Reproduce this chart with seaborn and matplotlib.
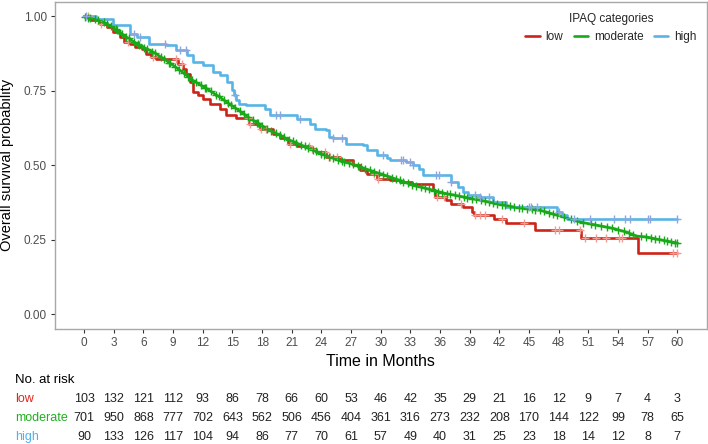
import numpy as np
import pandas as pd
import matplotlib
matplotlib.use("Agg")
import matplotlib.pyplot as plt
from matplotlib.lines import Line2D
from matplotlib.transforms import blended_transform_factory
import seaborn as sns

# ---------------- data ----------------
groups = ["low", "moderate", "high"]

low_t = [0, 0.6, 1.6, 2.3, 2.9, 3.6, 4.0, 4.6, 5.1, 5.8, 6.3, 6.8, 7.3, 9.5, 10.0,
         10.3, 10.7, 11.0, 11.5, 12.0, 12.7, 13.7, 14.3, 15.4, 16.7, 17.8, 19.1,
         19.8, 20.6, 21.5, 22.8, 23.5, 24.5, 25.9, 27.2, 27.9, 28.6, 29.6, 30.9,
         31.9, 33.2, 35.3, 35.5, 36.6, 37.1, 38.3, 39.2, 39.4, 41.5, 42.7, 45.6,
         50.3, 56.0, 60.0]
low_s = [1.0, 0.987, 0.975, 0.964, 0.947, 0.930, 0.914, 0.908, 0.897, 0.891, 0.875,
         0.863, 0.856, 0.841, 0.824, 0.808, 0.780, 0.746, 0.735, 0.724, 0.707, 0.690,
         0.670, 0.660, 0.640, 0.623, 0.606, 0.590, 0.573, 0.564, 0.556, 0.545, 0.528,
         0.517, 0.500, 0.483, 0.472, 0.455, 0.450, 0.444, 0.438, 0.416, 0.394, 0.383,
         0.371, 0.360, 0.343, 0.332, 0.321, 0.305, 0.284, 0.256, 0.206, 0.206]

# moderate group: very many tiny steps, read as a dense trace
mod_t = [0, 0.5, 1.6, 2.9, 4.3, 5.6, 7.0, 8.3, 9.7, 11.0, 12.4, 13.7, 14.6, 15.4,
         16.8, 18.8, 20.8, 22.8, 24.8, 26.9, 28.9, 30.9, 33.3, 36.6, 40.0, 43.4,
         46.1, 48.4, 50.1, 51.8, 53.5, 54.8, 55.9, 56.9, 58.5, 60.0]
mod_s = [1.0, 0.995, 0.987, 0.964, 0.930, 0.903, 0.880, 0.852, 0.819, 0.785, 0.757,
         0.729, 0.708, 0.690, 0.657, 0.617, 0.584, 0.556, 0.528, 0.506, 0.483, 0.461,
         0.433, 0.405, 0.383, 0.360, 0.349, 0.327, 0.310, 0.299, 0.288, 0.276, 0.262,
         0.259, 0.248, 0.239]

high_t = [0, 1.2, 2.9, 4.6, 5.3, 6.6, 8.3, 9.3, 10.4, 11.0, 12.0, 13.0, 13.7, 14.4,
          15.0, 15.2, 15.4, 15.7, 16.4, 18.3, 18.8, 21.5, 22.8, 23.3, 24.5, 24.8,
          25.2, 26.5, 28.2, 28.6, 29.6, 30.6, 30.9, 32.6, 33.3, 33.9, 34.3, 37.1,
          37.8, 38.3, 38.8, 40.0, 41.4, 42.7, 47.8, 48.3, 48.8, 60.0]
high_s = [1.0, 0.99, 0.97, 0.942, 0.930, 0.908, 0.903, 0.886, 0.869, 0.847, 0.836,
          0.813, 0.802, 0.780, 0.752, 0.735, 0.718, 0.707, 0.701, 0.690, 0.668, 0.657,
          0.640, 0.623, 0.617, 0.595, 0.590, 0.573, 0.567, 0.550, 0.534, 0.525, 0.517,
          0.511, 0.500, 0.489, 0.466, 0.444, 0.427, 0.410, 0.400, 0.394, 0.377, 0.360,
          0.343, 0.332, 0.318, 0.318]

low_cens = [0.4, 1.7, 4.4, 7.0, 9.3, 9.9, 16.6, 16.8, 17.9, 18.4, 20.8, 22.7, 23.0,
            24.4, 24.9, 25.6, 29.3, 29.7, 35.7, 36.4, 38.1, 39.5, 40.0, 40.5, 42.3,
            44.5, 47.6, 48.0, 50.2, 50.7, 51.8, 52.8, 54.1, 54.4, 59.6, 60.0]
mod_cens = [0.1, 0.4, 0.6, 1.1, 1.4, 2.0, 2.3, 2.7, 3.2, 3.3, 3.8, 4.2, 4.5, 5.0, 5.4,
            5.5, 6.1, 6.4, 6.9, 7.2, 7.8, 8.1, 8.6, 8.7, 9.2, 9.6, 10.1, 10.5, 10.9,
            11.3, 11.8, 12.2, 12.3, 12.8, 13.3, 13.6, 14.1, 14.5, 14.9, 15.3, 15.8,
            16.2, 16.6, 17.1, 17.5, 17.6, 18.0, 18.5, 18.9, 19.4, 19.8, 20.2, 20.7,
            21.1, 21.4, 21.9, 22.3, 22.6, 23.1, 23.5, 24.0, 24.3, 24.8, 25.2, 25.7,
            26.1, 26.3, 26.8, 27.2, 27.7, 28.0, 28.4, 28.9, 29.3, 29.8, 30.2, 30.6,
            31.1, 31.5, 31.9, 32.3, 32.8, 33.2, 33.6, 34.1, 34.5, 34.9, 35.4, 35.8,
            36.2, 36.7, 37.0, 37.5, 37.9, 38.4, 38.7, 39.2, 39.6, 40.1, 40.5, 40.9,
            41.4, 41.8, 42.3, 42.6, 43.1, 43.5, 44.0, 44.3, 44.8, 45.3, 45.6, 46.1,
            46.5, 47.0, 47.4, 47.8, 48.5, 49.2, 49.8, 50.5, 51.3, 51.7, 52.3, 52.9,
            53.4, 54.0, 54.6, 55.1, 55.5, 56.3, 56.8, 57.3, 57.7, 58.1, 58.6, 59.0,
            59.4, 59.8, 60.0]
high_cens = [0.2, 5.0, 5.6, 8.2, 9.7, 10.3, 15.3, 19.4, 19.8, 21.8, 25.2, 26.1, 30.2,
             32.0, 32.3, 33.0, 33.3, 35.6, 35.9, 37.1, 39.5, 40.0, 40.9, 45.0, 45.2,
             45.8, 48.0, 49.5, 51.2, 53.6, 54.7, 55.2, 57.0, 57.2, 60.0]

risk_times = [0, 3, 6, 9, 12, 15, 18, 21, 24, 27, 30, 33, 36, 39, 42, 45, 48, 51, 54, 57, 60]
risk_low = [103, 132, 121, 112, 93, 86, 78, 66, 60, 53, 46, 42, 35, 29, 21, 16, 12, 9, 7, 4, 3]
risk_mod = [701, 950, 868, 777, 702, 643, 562, 506, 456, 404, 361, 316, 273, 232, 208,
            170, 144, 122, 99, 78, 65]
risk_high = [90, 133, 126, 117, 104, 94, 86, 77, 70, 61, 57, 49, 40, 31, 25, 23, 18,
             14, 12, 8, 7]

# ---------------- styling ----------------
line_col = {"low": "#CC2418", "moderate": "#17AA17", "high": "#57B4E6"}
cens_col = {"low": "#F49A90", "moderate": "#18A818", "high": "#8CA6DE"}
label_col = {"low": "#E2261B", "moderate": "#1FB01F", "high": "#4FB3EA"}
draw = {"low": "steps-post", "moderate": "default", "high": "steps-post"}

sns.set_theme(style="white")
plt.rcParams["font.family"] = ["Liberation Sans", "DejaVu Sans"]

W, H = 708, 444
fig = plt.figure(figsize=(W / 100, H / 100), dpi=100)
L, R, T, B = 54.5, 707, 1.5, 329
ax = fig.add_axes([L / W, 1 - B / H, (R - L) / W, (B - T) / H])

curves = pd.concat([
    pd.DataFrame({"group": "low", "time": low_t, "surv": low_s}),
    pd.DataFrame({"group": "moderate", "time": mod_t, "surv": mod_s}),
    pd.DataFrame({"group": "high", "time": high_t, "surv": high_s}),
], ignore_index=True)


def step_at(times, survs, c):
    idx = np.searchsorted(np.asarray(times), np.asarray(c), side="right") - 1
    return np.asarray(survs)[idx]


cens = pd.concat([
    pd.DataFrame({"group": "low", "time": low_cens, "surv": step_at(low_t, low_s, low_cens)}),
    pd.DataFrame({"group": "moderate", "time": mod_cens,
                  "surv": np.interp(mod_cens, mod_t, mod_s)}),
    pd.DataFrame({"group": "high", "time": high_cens, "surv": step_at(high_t, high_s, high_cens)}),
], ignore_index=True)

for g in groups:
    sns.lineplot(data=curves[curves.group == g], x="time", y="surv", color=line_col[g],
                 estimator=None, sort=False, drawstyle=draw[g], linewidth=1.9,
                 ax=ax, legend=False)
    sns.scatterplot(data=cens[cens.group == g], x="time", y="surv", color=cens_col[g],
                    marker="+", s=30, linewidth=1.0, ax=ax, legend=False, zorder=3)

ax.set_xlim(-3, 63)
ax.set_ylim(-0.05, 1.05)
ax.set_xticks(risk_times)
ax.set_xticklabels([str(t) for t in risk_times])
ax.set_yticks([0, 0.25, 0.5, 0.75, 1.0])
ax.set_yticklabels(["0.00", "0.25", "0.50", "0.75", "1.00"])
ax.tick_params(axis="both", which="major", bottom=True, left=True, length=3, width=0.8,
               color="#333333", labelsize=8.5, labelcolor="#4D4D4D", pad=2.5)
for sp in ax.spines.values():
    sp.set_color("#A8A8A8")
    sp.set_linewidth(1.0)
ax.set_xlabel("Time in Months", fontsize=11.5, color="black", labelpad=4)
ax.set_ylabel("Overall survival probability", fontsize=10.5, color="black", labelpad=7)

handles = [Line2D([], [], color=line_col[g], linewidth=1.9) for g in groups]
leg = ax.legend(handles, groups, title="IPAQ categories", ncol=3, loc="upper right",
                bbox_to_anchor=(0.995, 0.985), frameon=False, fontsize=8.5,
                title_fontsize=8.5, handlelength=1.2, handletextpad=0.5,
                columnspacing=0.9, borderaxespad=0.2)

# ---------------- risk table ----------------
TAB_TOP = 368
ax2 = fig.add_axes([L / W, 0, (R - L) / W, (H - TAB_TOP) / H])
ax2.set_xlim(-3, 63)
ax2.set_ylim(H - TAB_TOP, 0)
ax2.axis("off")
row_y = {"low": 399 - TAB_TOP, "moderate": 418 - TAB_TOP, "high": 437 - TAB_TOP}
risk = {"low": risk_low, "moderate": risk_mod, "high": risk_high}
tr = blended_transform_factory(fig.transFigure, ax2.transData)
ax2.text(15 / W, 380 - TAB_TOP, "No. at risk", transform=tr, ha="left", va="center",
         fontsize=9.5, color="black")
for g in groups:
    ax2.text(15 / W, row_y[g], g, transform=tr, ha="left", va="center", fontsize=9,
             color=label_col[g])
    for t, n in zip(risk_times, risk[g]):
        ax2.text(t, row_y[g], str(n), ha="center", va="center", fontsize=9, color="#222222")

fig.savefig("out.png", dpi=100)
